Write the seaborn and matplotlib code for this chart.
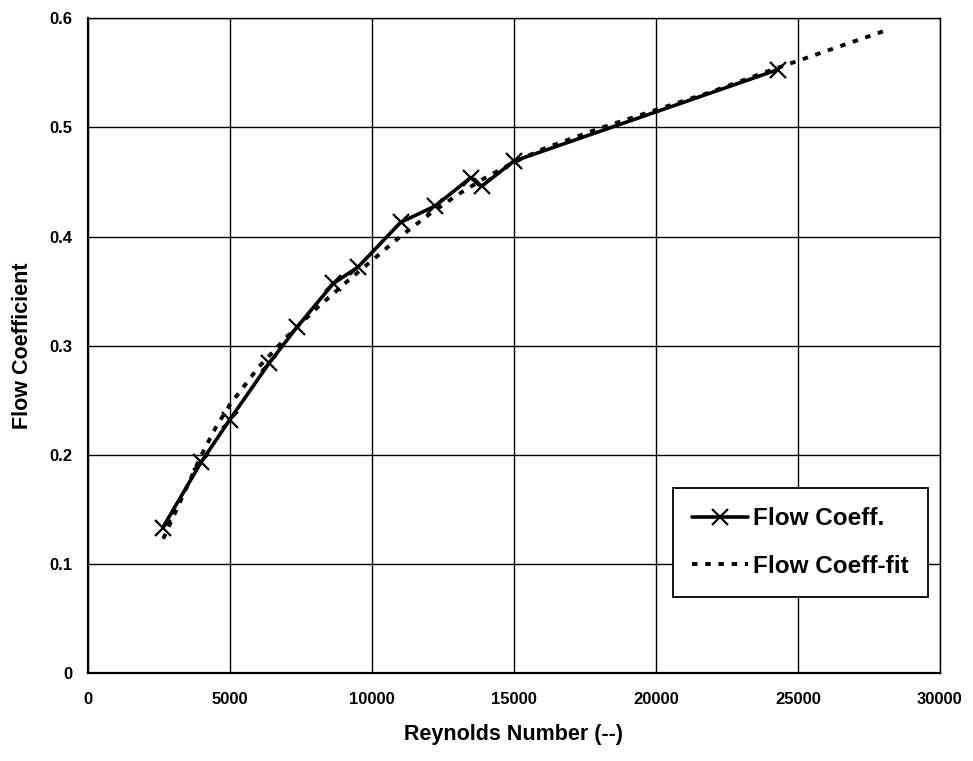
import matplotlib
matplotlib.use("Agg")
import matplotlib.pyplot as plt
import seaborn as sns
import pandas as pd

# Measured flow coefficient vs Reynolds number
reynolds = [2630, 3980, 4990, 6380, 7360, 8640, 9510, 11010, 12230, 13480, 13860, 14990, 24300]
flow_coeff = [0.133, 0.193, 0.232, 0.284, 0.317, 0.357, 0.372, 0.413, 0.428, 0.454, 0.446, 0.469, 0.553]

# Fitted curve
fit_reynolds = [2650, 4000, 4500, 5000, 6000, 7000, 8000, 9000, 10000, 11000, 12000, 13000,
                14000, 15000, 16000, 18000, 20000, 22000, 24000, 26000, 28000]
fit_coeff = [0.123, 0.200, 0.225, 0.246, 0.280, 0.308, 0.333, 0.356, 0.378, 0.400, 0.420, 0.438,
             0.454, 0.468, 0.480, 0.499, 0.516, 0.533, 0.552, 0.570, 0.588]

x_ticks = [0, 5000, 10000, 15000, 20000, 25000, 30000]
y_ticks = [0, 0.1, 0.2, 0.3, 0.4, 0.5, 0.6]
y_tick_labels = ["0", "0.1", "0.2", "0.3", "0.4", "0.5", "0.6"]

sns.set_theme(style="white")
plt.rcParams["font.family"] = ["Liberation Sans", "DejaVu Sans"]
plt.rcParams["font.weight"] = "bold"
plt.rcParams["text.color"] = "black"
plt.rcParams["axes.labelcolor"] = "black"

meas = pd.DataFrame({"Re": reynolds, "Cf": flow_coeff})
fit = pd.DataFrame({"Re": fit_reynolds, "Cf": fit_coeff})

fig = plt.figure(figsize=(9.73, 7.61), dpi=100)
ax = fig.add_axes([0.0904, 0.1156, 0.8756, 0.8604])

sns.lineplot(data=meas, x="Re", y="Cf", ax=ax, color="black", linewidth=2.6,
             marker="x", markersize=12, markeredgewidth=1.6,
             markeredgecolor="black", markerfacecolor="black", sort=False,
             label="Flow Coeff.", zorder=4)
sns.lineplot(data=fit, x="Re", y="Cf", ax=ax, color="black", linewidth=2.8,
             linestyle=(0, (1.4, 2.0)), sort=False, label="Flow Coeff-fit", zorder=3)

ax.set_xlim(0, 30000)
ax.set_ylim(0, 0.6)
ax.set_xticks(x_ticks)
ax.set_xticklabels([str(v) for v in x_ticks])
ax.set_yticks(y_ticks)
ax.set_yticklabels(y_tick_labels)
ax.grid(True, color="black", linewidth=1.0)
ax.set_axisbelow(True)
for s in ax.spines.values():
    s.set_color("black")
    s.set_linewidth(1.0)
ax.spines["left"].set_linewidth(1.6)
ax.spines["bottom"].set_linewidth(1.6)

ax.tick_params(axis="both", which="major", direction="out", length=5, width=1,
               colors="black", labelsize=12, pad=6)
ax.tick_params(axis="x", pad=9)
for lbl in ax.get_xticklabels() + ax.get_yticklabels():
    lbl.set_fontweight("bold")

ax.set_xlabel("Reynolds Number (--)", fontsize=15.5, fontweight="bold", labelpad=12)
ax.set_ylabel("Flow Coefficient", fontsize=15.5, fontweight="bold", labelpad=12)

leg = ax.legend(loc="lower right", bbox_to_anchor=(0.986, 0.116), borderaxespad=0,
                frameon=True, fancybox=False, edgecolor="black", framealpha=1,
                handlelength=2.3, handletextpad=0.2, labelspacing=1.0,
                borderpad=0.8, prop={"weight": "bold", "size": 17.5})
leg.get_frame().set_linewidth(1.3)

fig.savefig("out.png", dpi=100)
